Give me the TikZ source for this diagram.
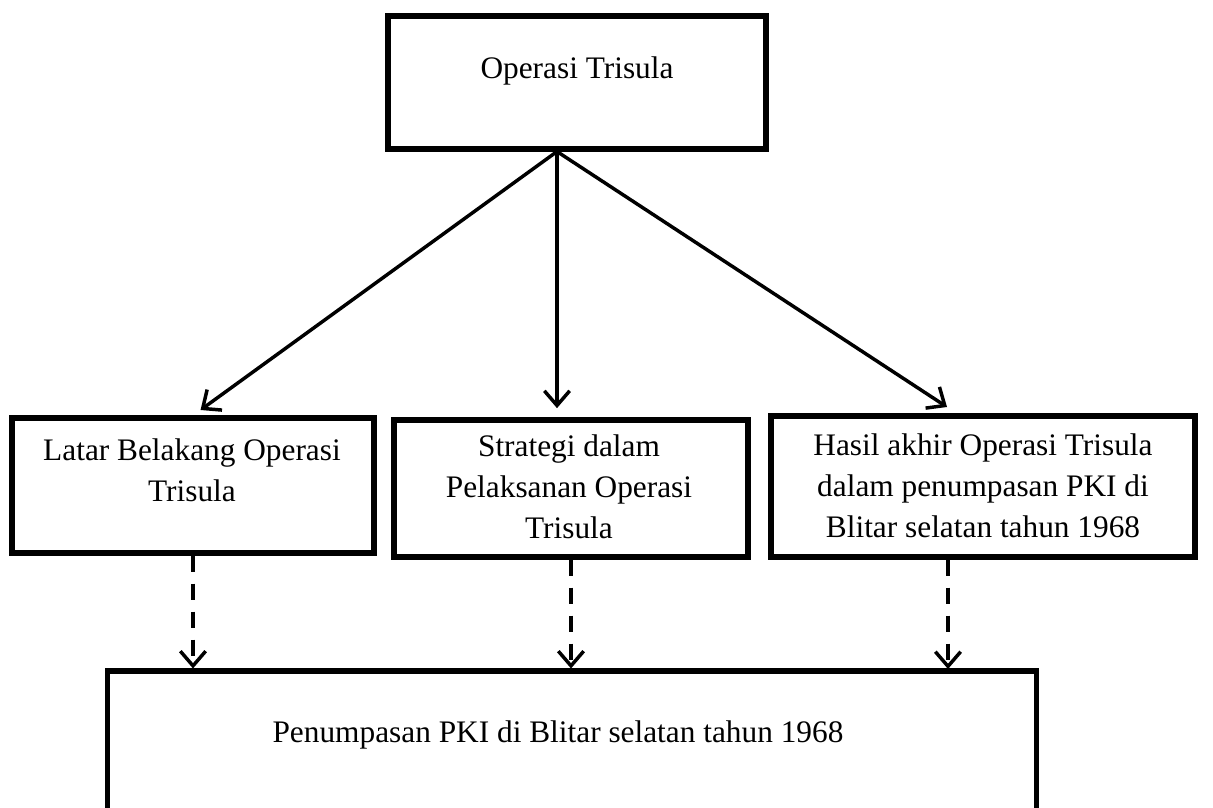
\documentclass[tikz,border=0pt]{standalone}
\usepackage{fontspec}
\setmainfont{Liberation Serif}
\usetikzlibrary{arrows.meta}
\begin{document}
\begin{tikzpicture}[
  x=0.75pt, y=-0.75pt,
  box/.style = {draw, line width=3.8pt, inner sep=0pt},
  txt/.style = {anchor=north, inner sep=0pt, align=center,
    font=\fontsize{23.5pt}{30.75pt}\selectfont},
  link/.style = {line width=2.6pt,
    -{Straight Barb[length=11pt,width=19pt,line width=2.6pt]}},
  dashlink/.style = {link, dash pattern=on 12pt off 9pt}
  ]
  \useasboundingbox (0,0) rectangle (1213,807);
  \node[box, minimum width=283.5pt, minimum height=99.75pt] (top) at (577,82.5) {};
  \node[box, minimum width=271.5pt, minimum height=101.25pt] (b1) at (193,485.5) {};
  \node[box, minimum width=265.5pt, minimum height=102.75pt] (b2) at (571,488.5) {};
  \node[box, minimum width=318pt, minimum height=105.75pt] (b3) at (983,486.5) {};
  \node[box, minimum width=696.75pt, minimum height=127.5pt] (bot) at (572,756) {};
  \coordinate (src) at ([xshift=-15pt]top.south);
  \coordinate (c3) at (947,407);
  \coordinate (d3) at (948,669);
  \node[txt] (ttop) at (577,56.6) {Operasi Trisula};
  \node[txt] (t1) at (192,438.6) {Latar Belakang Operasi\\Trisula};
  \node[txt] (t2) at (569,434.6) {Strategi dalam\\Pelaksanan Operasi\\Trisula};
  \node[txt] (t3) at (983,433.6) {Hasil akhir Operasi Trisula\\dalam penumpasan PKI di\\Blitar selatan tahun 1968};
  \node[txt] (tbot) at (558,720.6) {Penumpasan PKI di Blitar selatan tahun 1968};
  \draw[link, shorten >=7pt] (src) -- (b1.north);
  \draw[link, shorten >=7pt] (src) -- (src |- b2.north);
  \draw[link] (src) -- (c3);
  \draw[dashlink] (b1.south) -- (b1.south |- bot.north);
  \draw[dashlink] (b2.south) -- (b2.south |- bot.north);
  \draw[dashlink] (b3.south -| d3) -- (d3);
\end{tikzpicture}
\end{document}
